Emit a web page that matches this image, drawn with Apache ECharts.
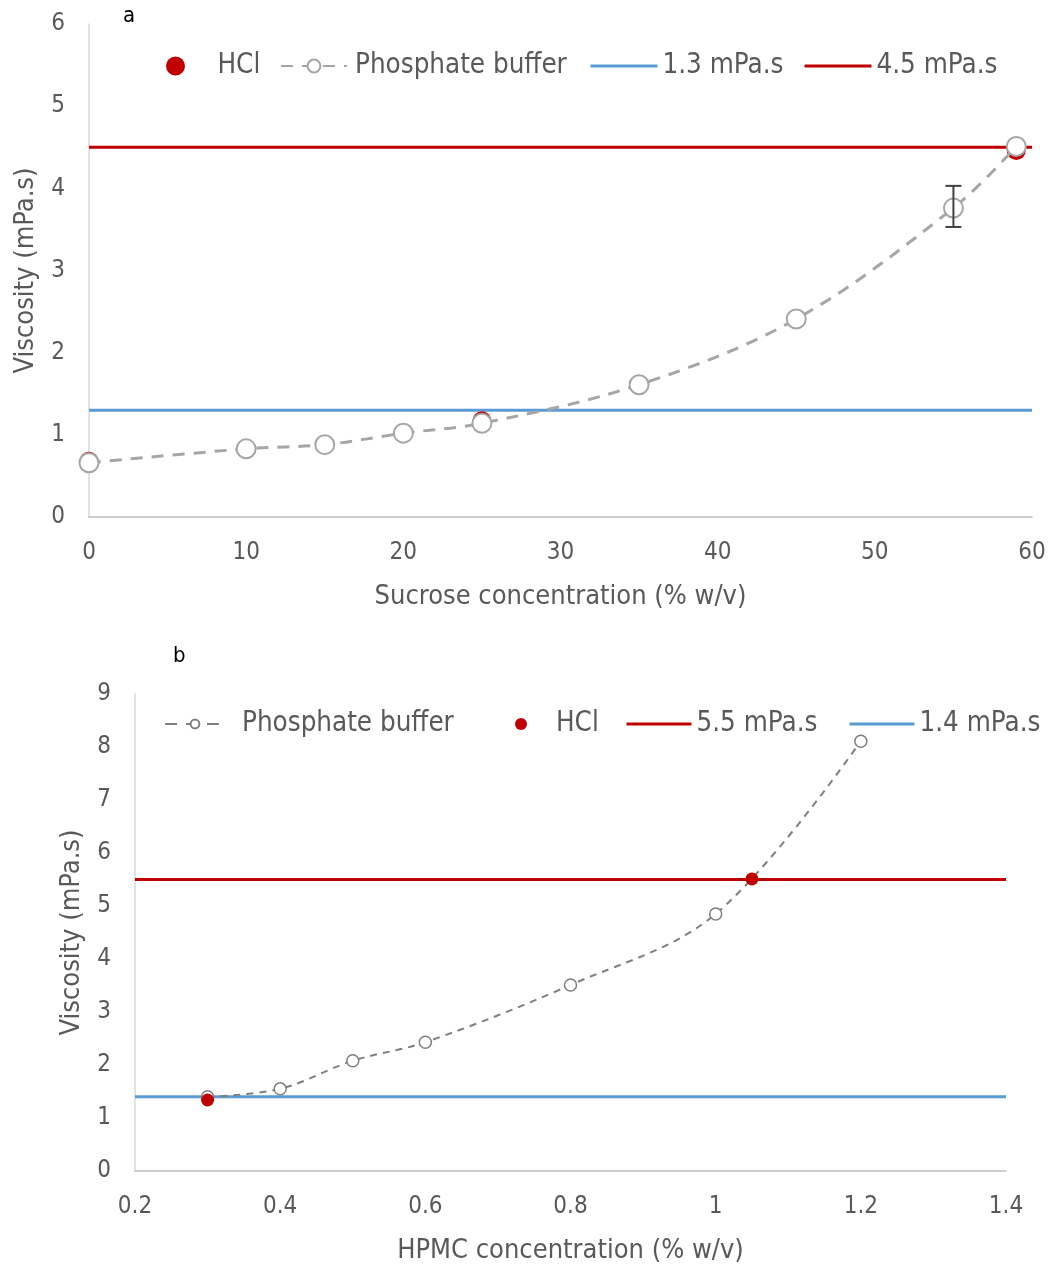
<!DOCTYPE html>
<html>
<head>
<meta charset="utf-8">
<script src="https://cdn.jsdelivr.net/npm/echarts@6/dist/echarts.min.js"></script>
<style>
  html, body { margin: 0; padding: 0; background: #fff; }
  #main { width: 1051px; height: 1265px; }
</style>
</head>
<body>
<div id="main"></div>
<script>
// panel a: sucrose
const sucroseX = [0, 10, 15, 20, 25, 35, 45, 55, 59]
const sucrosePhosphate = [0.66, 0.83, 0.88, 1.02, 1.14, 1.61, 2.41, 3.76, 4.51]
const sucroseHclX = [0, 25, 59]
const sucroseHcl = [0.68, 1.17, 4.46]
const sucroseErrX = [55]
const sucroseErrLow = [3.53]
const sucroseErrHigh = [4.03]
const sucroseRange = [0, 60]
const sucroseRefs = [1.3, 4.5]

// panel b: HPMC
const hpmcX = [0.3, 0.4, 0.5, 0.6, 0.8, 1.0, 1.2]
const hpmcPhosphate = [1.40, 1.55, 2.08, 2.43, 3.51, 4.85, 8.11]
const hpmcHclX = [0.3, 1.05]
const hpmcHcl = [1.34, 5.51]
const hpmcRange = [0.2, 1.4]
const hpmcRefs = [5.5, 1.4]

const FONT = '"Liberation Sans Narrow", "DejaVu Sans Condensed", "Noto Sans", sans-serif'
const TXT = '#595959'
const RED = '#c00000'
const BLUE = '#5b9bd5'

const zip = (xs, ys) => xs.map((x, i) => [x, ys[i]])
const hline = (range, v) => range.map(x => [x, v])

var myChart = echarts.init(document.getElementById('main'))

// one legend box per entry, so each can sit where Excel put it
function legendItem (item, left, top, width, height, padLeft) {
  return {
    left: left, top: top, itemWidth: width, itemHeight: height,
    textStyle: { color: TXT, fontSize: 27.5, fontFamily: FONT, padding: [0, 0, 0, padLeft || 0] },
    data: [item]
  }
}
const lineEntry = (name, color) => ({ name: name, itemStyle: { opacity: 0 }, lineStyle: { color: color, width: 3 } })

function yAxisOf (gridIndex, max) {
  return {
    type: 'value', gridIndex: gridIndex, min: 0, max: max, interval: 1,
    name: 'Viscosity (mPa.s)', nameLocation: 'middle', nameGap: 50,
    nameTextStyle: { color: TXT, fontSize: 27, fontFamily: FONT },
    axisLine: { show: true, lineStyle: { color: '#d9d9d9', width: 1.5 } },
    axisTick: { show: false },
    splitLine: { show: false },
    axisLabel: { color: TXT, fontSize: 24, fontFamily: FONT, margin: 24 }
  }
}

function xAxisOf (gridIndex, range, interval, name) {
  return {
    type: 'value', gridIndex: gridIndex, min: range[0], max: range[1], interval: interval,
    name: name, nameLocation: 'middle', nameGap: 66,
    nameTextStyle: { color: TXT, fontSize: 27, fontFamily: FONT },
    axisLine: { show: true, lineStyle: { color: '#bfbfbf', width: 1.5 } },
    axisTick: { show: false },
    splitLine: { show: false },
    axisLabel: { color: TXT, fontSize: 24, fontFamily: FONT, margin: 24 }
  }
}

var option = {
  backgroundColor: '#fff',
  animation: false,
  title: [
    { text: 'a', left: 118, top: 0, textStyle: { color: '#000', fontSize: 22, fontWeight: 'normal', fontFamily: FONT } },
    { text: 'b', left: 168, top: 640, textStyle: { color: '#000', fontSize: 22, fontWeight: 'normal', fontFamily: FONT } }
  ],
  grid: [
    { left: 89, right: 19, top: 24, height: 493 },
    { left: 135, right: 45, top: 694, height: 477 }
  ],
  legend: [
    legendItem('HCl', 161, 47, 74, 19),
    legendItem({ name: 'Phosphate buffer', itemStyle: { borderColor: '#a6a6a6' } }, 275, 47, 66, 16, 3),
    legendItem(lineEntry('1.3 mPa.s', BLUE), 584, 47, 67, 20),
    legendItem(lineEntry('4.5 mPa.s', RED), 798, 47, 67, 20),
    legendItem({ name: 'Phosphate buffer', itemStyle: { borderColor: '#7f7f7f' }, lineStyle: { color: '#7f7f7f', width: 2 } }, 159, 705, 60, 11, 12),
    legendItem('HCl', 510, 705, 60, 12),
    legendItem(lineEntry('5.5 mPa.s', RED), 620, 705, 65, 12),
    legendItem(lineEntry('1.4 mPa.s', BLUE), 843, 705, 65, 12)
  ],
  xAxis: [
    xAxisOf(0, sucroseRange, 10, 'Sucrose concentration (% w/v)'),
    xAxisOf(1, hpmcRange, 0.2, 'HPMC concentration (% w/v)')
  ],
  yAxis: [yAxisOf(0, 6), yAxisOf(1, 9)],
  series: [
    // panel a
    {
      name: 'HCl', type: 'scatter', xAxisIndex: 0, yAxisIndex: 0, z: 3,
      symbolSize: 19, itemStyle: { color: RED, opacity: 1 },
      data: zip(sucroseHclX, sucroseHcl)
    },
    {
      name: '1.3 mPa.s', type: 'line', xAxisIndex: 0, yAxisIndex: 0, z: 2,
      symbol: 'none', lineStyle: { color: BLUE, width: 3 }, itemStyle: { color: BLUE },
      data: hline(sucroseRange, sucroseRefs[0])
    },
    {
      name: '4.5 mPa.s', type: 'line', xAxisIndex: 0, yAxisIndex: 0, z: 2,
      symbol: 'none', lineStyle: { color: RED, width: 3 }, itemStyle: { color: RED },
      data: hline(sucroseRange, sucroseRefs[1])
    },
    {
      name: 'Phosphate buffer', type: 'line', xAxisIndex: 0, yAxisIndex: 0, z: 4,
      smooth: 0.35, symbol: 'circle', symbolSize: 19, showAllSymbol: true,
      lineStyle: { color: '#a6a6a6', width: 3, type: [12, 9] },
      itemStyle: { color: '#fff', borderColor: '#a6a6a6', borderWidth: 2 },
      data: zip(sucroseX, sucrosePhosphate)
    },
    {
      name: 'error', type: 'custom', xAxisIndex: 0, yAxisIndex: 0, z: 5,
      data: sucroseErrX.map((x, i) => [x, sucroseErrLow[i], sucroseErrHigh[i]]),
      renderItem: function (params, api) {
        const lo = api.coord([api.value(0), api.value(1)])
        const hi = api.coord([api.value(0), api.value(2)])
        const st = { stroke: '#404040', lineWidth: 2 }
        const w = 8
        return {
          type: 'group',
          children: [
            { type: 'line', shape: { x1: lo[0], y1: lo[1], x2: hi[0], y2: hi[1] }, style: st },
            { type: 'line', shape: { x1: lo[0] - w, y1: lo[1], x2: lo[0] + w, y2: lo[1] }, style: st },
            { type: 'line', shape: { x1: hi[0] - w, y1: hi[1], x2: hi[0] + w, y2: hi[1] }, style: st }
          ]
        }
      }
    },
    // panel b
    {
      name: 'Phosphate buffer', type: 'line', xAxisIndex: 1, yAxisIndex: 1, z: 3,
      smooth: 0.35, symbol: 'circle', symbolSize: 12, showAllSymbol: true,
      lineStyle: { color: '#7f7f7f', width: 2, type: [7, 6] },
      itemStyle: { color: '#fff', borderColor: '#7f7f7f', borderWidth: 1.5 },
      data: zip(hpmcX, hpmcPhosphate)
    },
    {
      name: 'HCl', type: 'scatter', xAxisIndex: 1, yAxisIndex: 1, z: 5,
      symbolSize: 13, itemStyle: { color: RED, opacity: 1 },
      data: zip(hpmcHclX, hpmcHcl)
    },
    {
      name: '5.5 mPa.s', type: 'line', xAxisIndex: 1, yAxisIndex: 1, z: 2,
      symbol: 'none', lineStyle: { color: RED, width: 3 }, itemStyle: { color: RED },
      data: hline(hpmcRange, hpmcRefs[0])
    },
    {
      name: '1.4 mPa.s', type: 'line', xAxisIndex: 1, yAxisIndex: 1, z: 2,
      symbol: 'none', lineStyle: { color: BLUE, width: 3 }, itemStyle: { color: BLUE },
      data: hline(hpmcRange, hpmcRefs[1])
    }
  ]
}

myChart.setOption(option)
</script>
</body>
</html>
